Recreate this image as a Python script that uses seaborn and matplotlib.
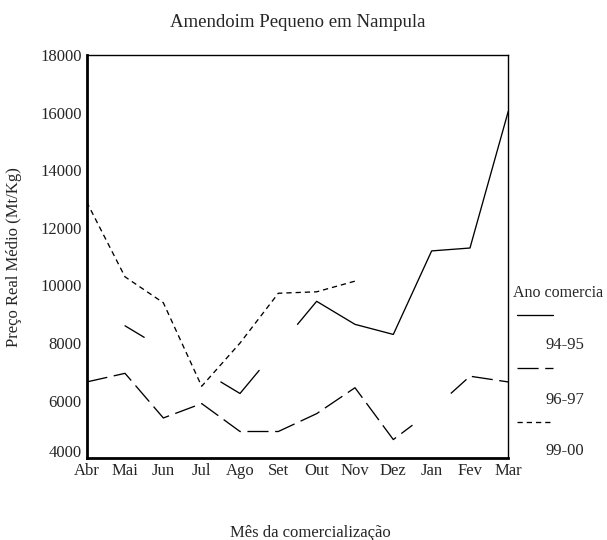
import numpy as np
import pandas as pd
import seaborn as sns
import matplotlib.pyplot as plt
import matplotlib.transforms as mtransforms
from matplotlib.lines import Line2D

meses = ['Abr', 'Mai', 'Jun', 'Jul', 'Ago', 'Set', 'Out', 'Nov', 'Dez', 'Jan', 'Fev', 'Mar']
series = ['94-95', '96-97', '99-00']

# preco real medio (Mt/Kg); NaN = sem valor
preco_9495 = [np.nan, 8600, 7800, 7050, 6250, 7850, 9450, 8650, 8300, 11200, 11300, 16050]
preco_9697 = [6650, 6950, 5400, 5900, 4930, 4930, 5550, 6450, 4650, 5650, 6850, 6650]
preco_9900 = [12900, 10300, 9400, 6500, 8000, 9730, 9780, 10150, np.nan, np.nan, np.nan, np.nan]

# meses marcados como em falta no grafico original (so meia ligacao)
falta_9495 = [True, False, True, True, False, True, False, False, False, False, False, False]
falta_9697 = [False, False, False, False, False, False, False, False, False, True, False, False]
falta_9900 = [False] * 12

valores = {'94-95': preco_9495, '96-97': preco_9697, '99-00': preco_9900}
faltas = {'94-95': falta_9495, '96-97': falta_9697, '99-00': falta_9900}

# build segments, SPSS style: each valid point joins halfway to its neighbours
rows = []
seg = 0
for s in series:
    v = valores[s]
    f = faltas[s]
    n = len(v)
    i = 0
    while i < n:
        if f[i] or np.isnan(v[i]):
            i += 1
            continue
        j = i
        while j + 1 < n and not f[j + 1] and not np.isnan(v[j + 1]):
            j += 1
        pts = []
        if i > 0 and not np.isnan(v[i - 1]):
            pts.append((i - 0.5, (v[i - 1] + v[i]) / 2))
        for k in range(i, j + 1):
            pts.append((k, v[k]))
        if j + 1 < n and not np.isnan(v[j + 1]):
            pts.append((j + 0.5, (v[j] + v[j + 1]) / 2))
        for o, (x, y) in enumerate(pts):
            rows.append({'x': x, 'y': y, 'serie': s, 'seg': seg, 'ordem': o})
        seg += 1
        i = j + 1

df = pd.DataFrame(rows)

sns.set_style('white')
plt.rcParams['font.family'] = ['Liberation Serif', 'DejaVu Serif']

fig = plt.figure(figsize=(6.07, 5.40), dpi=100)
ax = fig.add_axes([0.1428, 0.1513, 0.6946, 0.7468])

dashes = {'94-95': '', '96-97': (16, 5), '99-00': (4, 3)}
sns.lineplot(data=df, x='x', y='y', style='serie', units='seg', estimator=None,
             sort=False, dashes=dashes, color='black', linewidth=0.95, legend=False, ax=ax)

ax.set_xlim(0, 11)
ax.set_ylim(4000, 18000)
ax.set_xticks(range(len(meses)))
ax.set_xticklabels(meses, fontsize=12)
ax.set_yticks(range(4000, 18001, 2000))
ax.set_yticklabels([str(t) for t in range(4000, 18001, 2000)], fontsize=12)
ax.tick_params(axis='both', direction='inout', length=3, width=2.5, color='black', pad=2)

# the bottom y label sits a bit higher, as in the original
lab0 = ax.get_yticklabels()[0]
lab0.set_transform(lab0.get_transform() + mtransforms.ScaledTranslation(0, 7 / 100, fig.dpi_scale_trans))

for sp in ['left', 'bottom']:
    ax.spines[sp].set_linewidth(2)
for sp in ['top', 'right']:
    ax.spines[sp].set_linewidth(1)
for sp in ax.spines.values():
    sp.set_color('black')

ax.set_xlabel('Mês da comercialização', fontsize=12)
ax.set_ylabel('Preço Real Médio (Mt/Kg)', fontsize=12)
ax.xaxis.set_label_coords(0.53, -0.165)
ax.yaxis.set_label_coords(-0.153, 0.5)
fig.text(0.49, 0.958, 'Amendoim Pequeno em Nampula', ha='center', va='center', fontsize=13.5)

# legend drawn by hand: title, line sample, label below
fig.text(513 / 607, 1 - 293 / 540, 'Ano comercia', ha='left', va='center', fontsize=11.5)
amostras = [('94-95', '-', 315, 345), ('96-97', (0, (16, 5)), 368, 400), ('99-00', (0, (4, 3)), 422, 451)]
for lab, ls, yl, yt in amostras:
    fig.add_artist(Line2D([517 / 607, 553 / 607], [1 - yl / 540, 1 - yl / 540],
                          color='black', linewidth=0.95, linestyle=ls))
    fig.text(545 / 607, 1 - yt / 540, lab, ha='left', va='center', fontsize=12)

fig.savefig('out.png', dpi=100)
